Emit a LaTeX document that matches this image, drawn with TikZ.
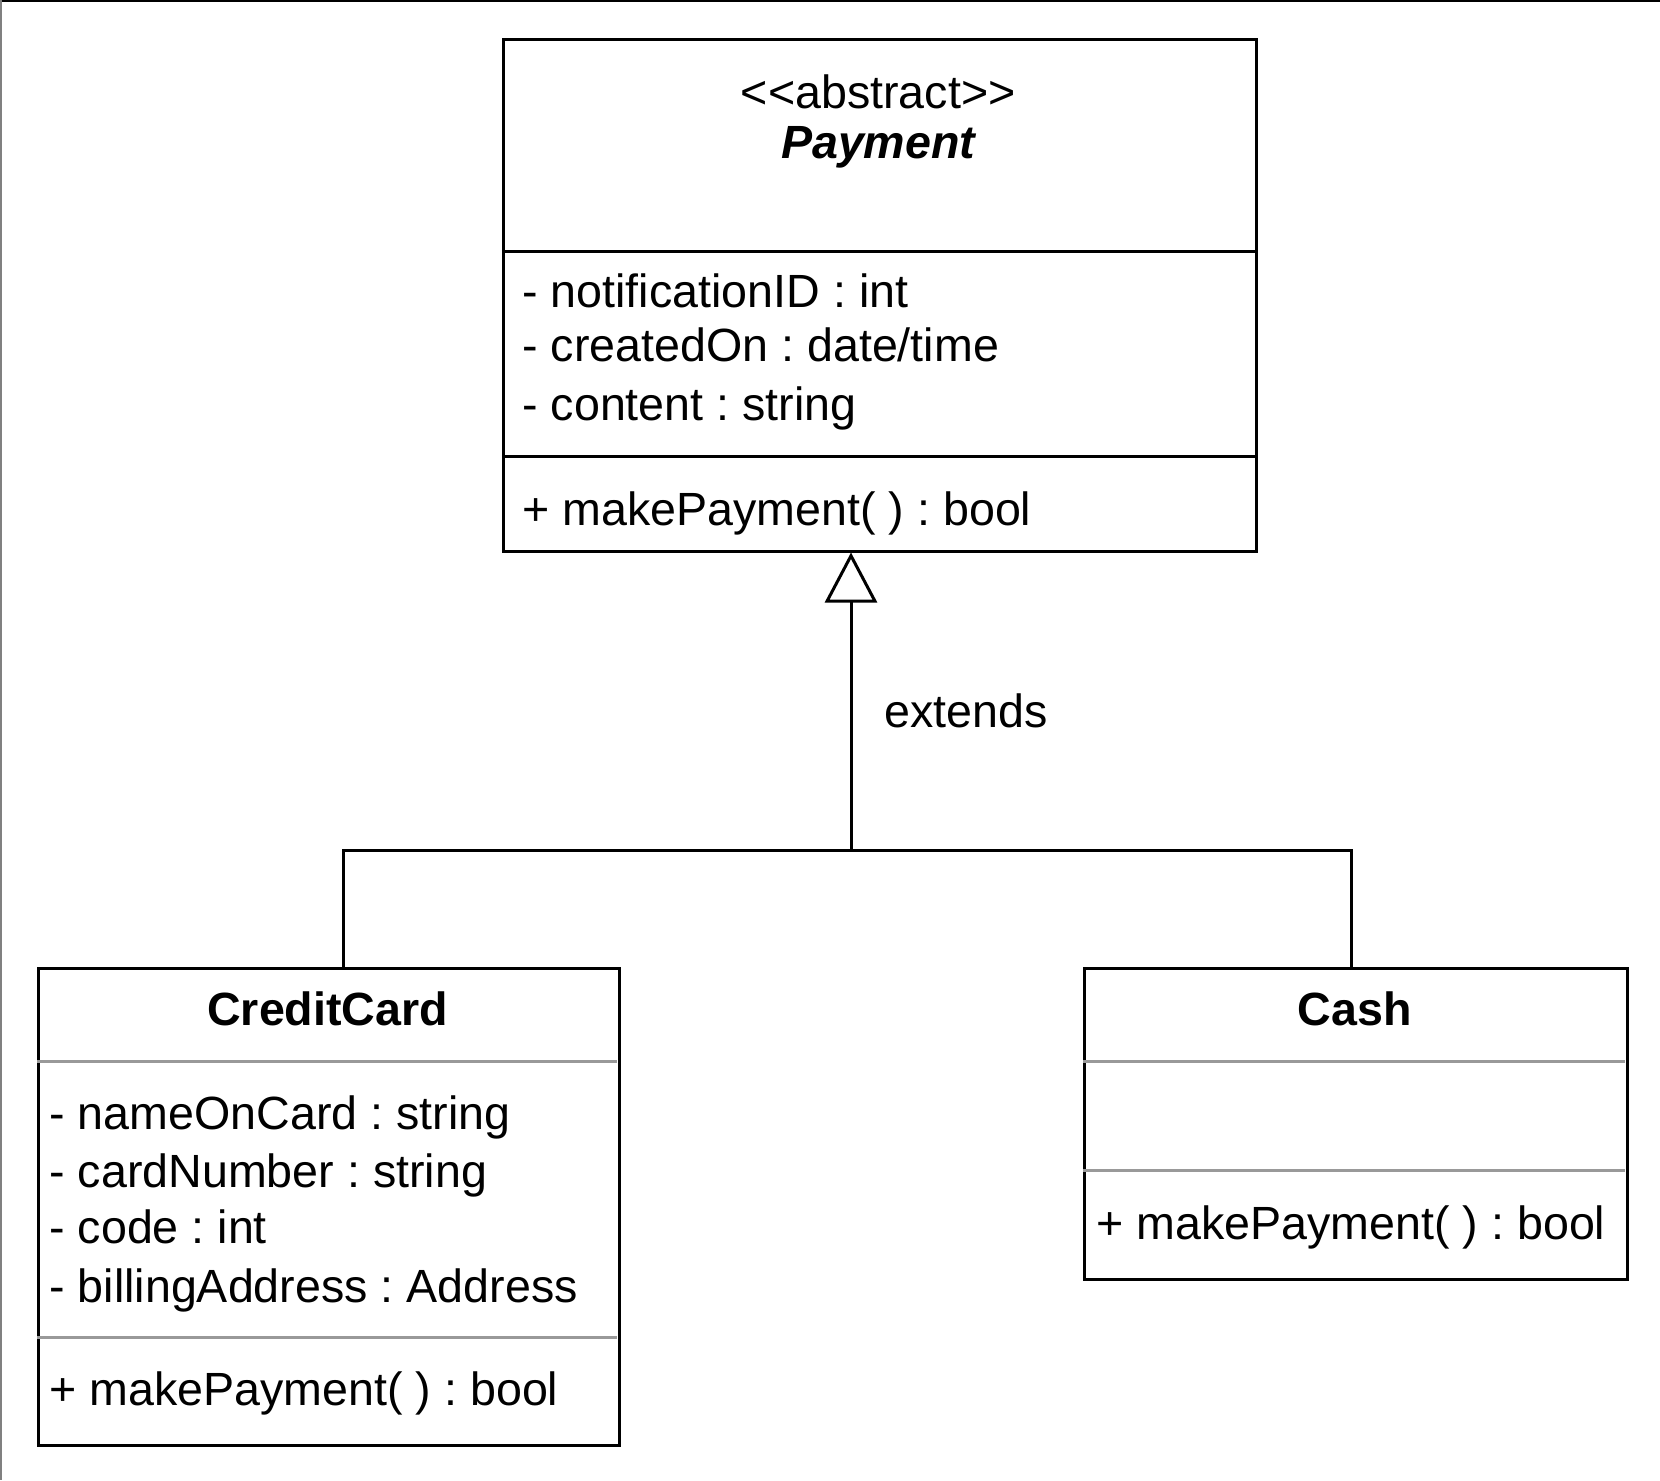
\documentclass[tikz,border=0pt]{standalone}
\usepackage{fontspec}
\setmainfont{Liberation Sans}
\usetikzlibrary{arrows.meta}
\frenchspacing
\begin{document}
\begin{tikzpicture}[x=0.5pt,y=-0.5pt,
  box/.style={draw=black, line width=1.5pt, fill=white, rectangle, inner sep=0pt, anchor=north west},
  txt/.style={inner sep=0pt, font=\fontsize{23.3}{28}\selectfont\frenchspacing},
  lft/.style={txt, anchor=base west},
  ctr/.style={txt, anchor=base},
  blackdiv/.style={draw=black, line width=1.5pt},
  graydiv/.style={draw=black!40, line width=1.5pt},
  conn/.style={draw=black, line width=1.5pt},
  gen/.style={conn, -{Triangle[open, length=25pt, width=26pt]}}
]
\useasboundingbox (0,0) rectangle (1660,1480);
% page edges
\draw[black, line width=0.75pt] (0,0.75) -- (1660,0.75);
\draw[black!50, line width=0.75pt] (0.75,0) -- (0.75,1480);

% Payment
\node[box, minimum width=376.4pt, minimum height=255.75pt] (pay) at (501.8,38) {};
\draw[blackdiv] (501.8,251) -- (1254.6,251);
\draw[blackdiv] (501.8,456) -- (1254.6,456);
\node[ctr] (payStereo) at (878.2,108) {<\kern0pt<abstract>\kern0pt>};
\node[ctr, font=\fontsize{23.3}{28}\selectfont\bfseries\itshape] (payName) at (878.2,158) {Payment};
\node[lft] (payA1) at (522,307) {- notificationID : int};
\node[lft] (payA2) at (522,361) {- createdOn : date/time};
\node[lft] (payA3) at (522,420) {- content : string};
\node[lft] (payM1) at (522,525) {+ makePayment( ) : bool};

% CreditCard
\node[box, minimum width=290.65pt, minimum height=238.7pt] (cc) at (37,966.6) {};
\draw[graydiv] (37,1061) -- (616.5,1061);
\draw[graydiv] (37,1337) -- (616.5,1337);
\node[ctr, font=\fontsize{23.3}{28}\selectfont\bfseries] (ccName) at (327.7,1025) {CreditCard};
\node[lft] (ccA1) at (49,1129) {- nameOnCard : string};
\node[lft] (ccA2) at (49,1187) {- cardNumber : string};
\node[lft] (ccA3) at (49,1243) {- code : int};
\node[lft] (ccA4) at (49,1302) {- billingAddress : Address};
\node[lft] (ccM1) at (49,1405) {+ makePayment( ) : bool};

% Cash
\node[box, minimum width=271.6pt, minimum height=155.7pt] (cash) at (1083,966.6) {};
\draw[graydiv] (1083,1061) -- (1624.5,1061);
\draw[graydiv] (1083,1170) -- (1624.5,1170);
\node[ctr, font=\fontsize{23.3}{28}\selectfont\bfseries] (cashName) at (1354.6,1025) {Cash};
\node[lft] (cashM1) at (1096,1239) {+ makePayment( ) : bool};

% generalization connectors
\path (cc.north west) ++(306,0) coordinate (ccTop);
\path (cash.north west) ++(268,0) coordinate (cashTop);
\path (pay.south west) ++(349.2,0) coordinate (payBot);
\coordinate (join) at (payBot |- 0,850);
\draw[conn] (cashTop) -- (cashTop |- join) -- (join);
\draw[gen] (ccTop) -- (ccTop |- join) -- (join) -- (payBot);
\node[lft] (ext) at (884,727) {extends};
\end{tikzpicture}
\end{document}
